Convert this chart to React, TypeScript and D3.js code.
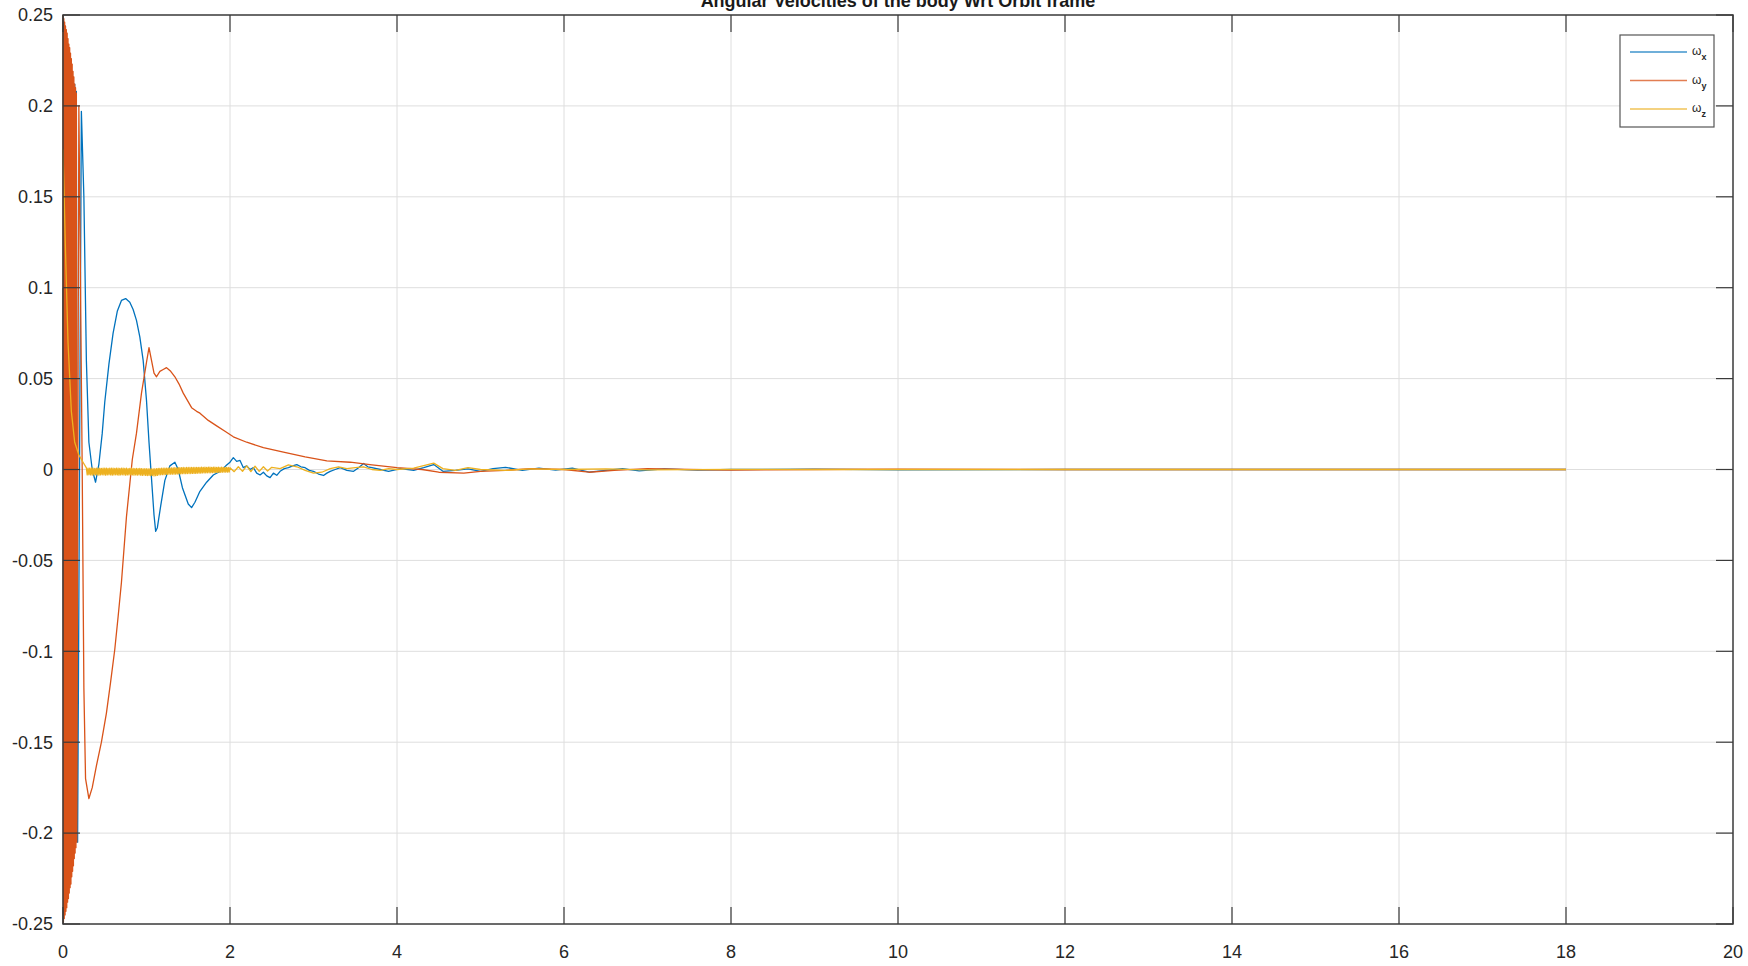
import { useRef, useEffect } from 'react';
import * as d3 from 'd3';

const WIDTH = 1748;
const HEIGHT = 966;
const MARGIN = { top: 15, right: 15, bottom: 42, left: 63 };

const TITLE = 'Angular Velocities of the body Wrt Orbit frame';

const X_TICKS = [0, 2, 4, 6, 8, 10, 12, 14, 16, 18, 20];
const Y_TICKS = [-0.25, -0.2, -0.15, -0.1, -0.05, 0, 0.05, 0.1, 0.15, 0.2, 0.25];
const Y_TICK_LABELS = ['-0.25', '-0.2', '-0.15', '-0.1', '-0.05', '0', '0.05', '0.1', '0.15', '0.2', '0.25'];

const SERIES_NAMES = ['x', 'y', 'z'];
const SERIES_COLORS = ['#0072BD', '#D95319', '#EDB120'];

// omega_x  [t, value]
const omegaX: [number, number][] = [
  [0, 0.1], [0.01, -0.2], [0.02, 0.21], [0.03, -0.21], [0.04, 0.212], [0.05, -0.21], [0.06, 0.211],
  [0.07, -0.209], [0.08, 0.21], [0.09, -0.208], [0.1, 0.209], [0.11, -0.207], [0.12, 0.21],
  [0.13, -0.206], [0.14, 0.212], [0.15, -0.205], [0.16, 0.208], [0.175, -0.205], [0.22, 0.197],
  [0.25, 0.15], [0.28, 0.06], [0.31, 0.015], [0.35, 0.0], [0.39, -0.007], [0.43, 0.003],
  [0.47, 0.02], [0.5, 0.037], [0.55, 0.058], [0.6, 0.075], [0.65, 0.087], [0.7, 0.093],
  [0.75, 0.094], [0.8, 0.092], [0.84, 0.088], [0.88, 0.082], [0.92, 0.073], [0.96, 0.06],
  [1.0, 0.038], [1.03, 0.015], [1.06, -0.005], [1.09, -0.025], [1.11, -0.034], [1.13, -0.032],
  [1.17, -0.02], [1.22, -0.006], [1.28, 0.002], [1.34, 0.004], [1.38, 0.0], [1.43, -0.01],
  [1.5, -0.019], [1.54, -0.021], [1.58, -0.018], [1.64, -0.012], [1.72, -0.007], [1.8, -0.003],
  [1.88, -0.001], [1.95, 0.002], [2.0, 0.004], [2.04, 0.0065], [2.08, 0.0045], [2.12, 0.005],
  [2.16, 0.001], [2.2, 0.002], [2.24, 0.0], [2.28, 0.001], [2.32, -0.002], [2.36, -0.003],
  [2.4, -0.0015], [2.44, -0.0035], [2.48, -0.0045], [2.52, -0.002], [2.56, -0.0032],
  [2.6, -0.001], [2.65, 0.0005], [2.7, 0.001], [2.75, 0.002], [2.8, 0.0027], [2.85, 0.0015],
  [2.9, 0.001], [2.95, -0.0005], [3.0, -0.001], [3.06, -0.0025], [3.12, -0.0033], [3.16, -0.002],
  [3.2, -0.001], [3.26, 0.0], [3.32, 0.001], [3.4, -0.0005], [3.48, -0.001], [3.54, 0.001],
  [3.6, 0.0033], [3.65, 0.0015], [3.7, 0.001], [3.8, 0.0], [3.9, -0.001], [4.04, 0.0005],
  [4.2, -0.0005], [4.32, 0.001], [4.44, 0.0027], [4.55, -0.001], [4.7, -0.0005], [4.85, 0.0003],
  [5.0, -0.001], [5.15, 0.0005], [5.3, 0.0012], [5.5, -0.0005], [5.7, 0.0008], [5.9, -0.0003],
  [6.1, 0.0008], [6.3, -0.0015], [6.5, -0.0005], [6.7, 0.0005], [6.9, -0.0008], [7.2, 0.0003],
  [7.6, -0.0003], [8, 0.0], [9, 0.0002], [10, -0.0002], [12, 0], [18, 0],
];

// omega_y
const omegaY: [number, number][] = [
  [0, 0.25], [0.005, -0.249], [0.01, 0.248], [0.015, -0.247], [0.02, 0.246], [0.025, -0.245],
  [0.03, 0.244], [0.035, -0.243], [0.04, 0.242], [0.045, -0.241], [0.05, 0.24], [0.055, -0.238],
  [0.06, 0.237], [0.065, -0.236], [0.07, 0.234], [0.075, -0.233], [0.08, 0.232], [0.085, -0.23],
  [0.09, 0.229], [0.095, -0.228], [0.1, 0.226], [0.105, -0.224], [0.11, 0.223], [0.115, -0.221],
  [0.12, 0.219], [0.125, -0.218], [0.13, 0.216], [0.135, -0.214], [0.14, 0.212], [0.145, -0.211],
  [0.15, 0.21], [0.155, -0.208], [0.16, 0.207], [0.165, -0.205], [0.19, 0.2], [0.21, 0.1],
  [0.23, 0.0], [0.25, -0.12], [0.27, -0.17], [0.31, -0.181], [0.35, -0.175], [0.4, -0.163],
  [0.46, -0.15], [0.52, -0.134], [0.57, -0.117], [0.62, -0.099], [0.66, -0.081], [0.7, -0.062],
  [0.76, -0.026], [0.8, -0.008], [0.83, 0.0055], [0.88, 0.02], [0.94, 0.042], [1.0, 0.059],
  [1.03, 0.067], [1.06, 0.06], [1.09, 0.053], [1.12, 0.051], [1.16, 0.054], [1.2, 0.055],
  [1.24, 0.056], [1.29, 0.054], [1.34, 0.051], [1.39, 0.047], [1.44, 0.042], [1.49, 0.038],
  [1.54, 0.034], [1.6, 0.032], [1.64, 0.031], [1.74, 0.027], [1.84, 0.024], [1.94, 0.021],
  [2.04, 0.018], [2.2, 0.015], [2.4, 0.012], [2.64, 0.0095], [2.9, 0.007], [3.16, 0.0048],
  [3.44, 0.004], [3.7, 0.0025], [4.0, 0.001], [4.3, 0.0], [4.5, -0.0015], [4.8, -0.002],
  [5.0, -0.001], [5.3, -0.0005], [5.6, 0.0005], [6.0, 0.0], [6.3, -0.0015], [6.6, -0.0005],
  [7.0, 0.0005], [7.5, 0.0], [8, -0.0003], [9, 0.0], [10, 0.0002], [12, 0], [18, 0],
];

// omega_z
const omegaZ: [number, number][] = [
  [0, 0.176], [0.03, 0.12], [0.06, 0.07], [0.1, 0.032], [0.14, 0.015], [0.19, 0.008], [0.24, 0.004],
  [0.28, 0.0009], [0.29, -0.003], [0.3, 0.0008], [0.31, -0.0029], [0.32, 0.0007], [0.33, -0.003],
  [0.34, 0.0009], [0.35, -0.0031], [0.36, 0.0008], [0.37, -0.003], [0.38, 0.0006], [0.39, -0.0029],
  [0.4, 0.0008], [0.41, -0.003], [0.42, 0.0007], [0.43, -0.0031], [0.44, 0.0008], [0.45, -0.003],
  [0.46, 0.0006], [0.47, -0.0029], [0.48, 0.0008], [0.49, -0.003],
  [0.5, 0.0007], [0.51, -0.0031], [0.52, 0.0008], [0.53, -0.003], [0.54, 0.0006], [0.55, -0.0029],
  [0.56, 0.0007], [0.57, -0.003], [0.58, 0.0008], [0.59, -0.0031],
  [0.6, 0.0007], [0.61, -0.003], [0.62, 0.0006], [0.63, -0.0029], [0.64, 0.0008], [0.65, -0.003],
  [0.66, 0.0007], [0.67, -0.0031], [0.68, 0.0006], [0.69, -0.003],
  [0.7, 0.0007], [0.71, -0.0029], [0.72, 0.0008], [0.73, -0.003], [0.74, 0.0006], [0.75, -0.0031],
  [0.76, 0.0007], [0.77, -0.003], [0.78, 0.0005], [0.79, -0.003],
  [0.8, 0.0006], [0.81, -0.0029], [0.82, 0.0007], [0.83, -0.003], [0.84, 0.0006], [0.85, -0.0031],
  [0.86, 0.0005], [0.87, -0.003], [0.88, 0.0006], [0.89, -0.0031],
  [0.9, 0.0005], [0.91, -0.003], [0.92, 0.0006], [0.93, -0.0031], [0.94, 0.0005], [0.95, -0.0032],
  [0.96, 0.0004], [0.97, -0.0031], [0.98, 0.0005], [0.99, -0.0032],
  [1.0, 0.0004], [1.01, -0.0033], [1.02, 0.0004], [1.03, -0.0032], [1.04, 0.0003], [1.05, -0.0034],
  [1.06, 0.0004], [1.07, -0.0033], [1.08, 0.0003], [1.09, -0.0035],
  [1.1, 0.0004], [1.11, -0.0034], [1.12, 0.0005], [1.13, -0.0032], [1.14, 0.0006], [1.15, -0.003],
  [1.16, 0.0006], [1.17, -0.0029], [1.18, 0.0007], [1.19, -0.0028],
  [1.2, 0.0007], [1.21, -0.0028], [1.22, 0.0008], [1.23, -0.0027], [1.24, 0.0008], [1.25, -0.0027],
  [1.26, 0.0008], [1.27, -0.0026], [1.28, 0.0009], [1.29, -0.0026],
  [1.3, 0.0009], [1.31, -0.0025], [1.32, 0.0009], [1.33, -0.0025], [1.34, 0.001], [1.35, -0.0025],
  [1.36, 0.0009], [1.37, -0.0024], [1.38, 0.001], [1.39, -0.0024],
  [1.4, 0.001], [1.41, -0.0024], [1.42, 0.001], [1.43, -0.0023], [1.44, 0.0011], [1.45, -0.0023],
  [1.46, 0.001], [1.47, -0.0023], [1.48, 0.0011], [1.49, -0.0022],
  [1.5, 0.0011], [1.51, -0.0022], [1.52, 0.0011], [1.53, -0.0022], [1.54, 0.0012], [1.55, -0.0021],
  [1.56, 0.0011], [1.57, -0.0021], [1.58, 0.0012], [1.59, -0.0021],
  [1.6, 0.0012], [1.61, -0.002], [1.62, 0.0012], [1.63, -0.002], [1.64, 0.0012], [1.65, -0.002],
  [1.66, 0.0013], [1.67, -0.0019], [1.68, 0.0012], [1.69, -0.0019],
  [1.7, 0.0013], [1.71, -0.0019], [1.72, 0.0012], [1.73, -0.0018], [1.74, 0.0013], [1.75, -0.0018],
  [1.76, 0.0013], [1.77, -0.0018], [1.78, 0.0012], [1.79, -0.0017],
  [1.8, 0.0013], [1.81, -0.0017], [1.82, 0.0013], [1.83, -0.0017], [1.84, 0.0012], [1.85, -0.0016],
  [1.86, 0.0013], [1.87, -0.0016], [1.88, 0.0012], [1.89, -0.0016],
  [1.9, 0.0013], [1.91, -0.0015], [1.92, 0.0012], [1.93, -0.0015], [1.94, 0.0012], [1.95, -0.0015],
  [1.96, 0.0012], [1.97, -0.0014], [1.98, 0.0011], [1.99, -0.0014], [2.0, 0.001],
  [2.05, -0.0012], [2.1, 0.0015], [2.15, -0.001], [2.2, 0.002], [2.25, -0.0012], [2.3, 0.0018],
  [2.35, -0.001], [2.4, 0.0015], [2.45, -0.0008], [2.5, 0.0012], [2.6, 0.0005], [2.7, 0.0025],
  [2.8, 0.0015], [2.9, -0.0005], [3.0, -0.002], [3.1, -0.0015], [3.2, 0.0005], [3.3, 0.0015],
  [3.4, 0.0005], [3.5, 0.001], [3.6, 0.0015], [3.7, 0.0], [3.8, -0.0005], [3.9, 0.0005], [4.0, 0.0],
  [4.2, 0.0008], [4.44, 0.0035], [4.55, 0.0005], [4.7, -0.0005], [4.85, 0.001], [5.0, 0.0],
  [5.3, -0.0005], [5.6, 0.0003], [6.0, 0.0], [6.5, 0.0003], [7, -0.0002], [8, 0.0001], [9, 0],
  [12, 0], [18, 0],
];

const SERIES = [omegaX, omegaY, omegaZ];

export default function App() {
  const svgRef = useRef<SVGSVGElement | null>(null);

  useEffect(() => {
    const svg = d3.select(svgRef.current);
    svg.selectAll('*').remove();

    const innerW = WIDTH - MARGIN.left - MARGIN.right;
    const innerH = HEIGHT - MARGIN.top - MARGIN.bottom;

    const xScale = d3.scaleLinear().domain([0, 20]).range([0, innerW]);
    const yScale = d3.scaleLinear().domain([-0.25, 0.25]).range([innerH, 0]);

    svg.append('rect').attr('width', WIDTH).attr('height', HEIGHT).attr('fill', '#fff');

    const font = "'Liberation Sans', Arial, Helvetica, sans-serif";

    // title sits partly above the visible area, like in the screenshot
    svg.append('text')
      .attr('x', MARGIN.left + innerW / 2)
      .attr('y', 7)
      .attr('text-anchor', 'middle')
      .attr('font-family', font)
      .attr('font-weight', 'bold')
      .attr('font-size', 18)
      .attr('fill', '#1a1a1a')
      .text(TITLE);

    const g = svg.append('g').attr('transform', `translate(${MARGIN.left},${MARGIN.top})`);

    // grid
    g.append('g')
      .selectAll('line')
      .data(X_TICKS.slice(1, -1))
      .join('line')
      .attr('x1', d => xScale(d)).attr('x2', d => xScale(d))
      .attr('y1', 0).attr('y2', innerH)
      .attr('stroke', '#dedede').attr('stroke-width', 1);
    g.append('g')
      .selectAll('line')
      .data(Y_TICKS.slice(1, -1))
      .join('line')
      .attr('x1', 0).attr('x2', innerW)
      .attr('y1', d => yScale(d)).attr('y2', d => yScale(d))
      .attr('stroke', '#dedede').attr('stroke-width', 1);

    // series
    const line = d3.line<[number, number]>()
      .x(d => xScale(d[0]))
      .y(d => yScale(d[1]));

    SERIES.forEach((data, i) => {
      g.append('path')
        .datum(data)
        .attr('d', line)
        .attr('fill', 'none')
        .attr('stroke', SERIES_COLORS[i])
        .attr('stroke-width', 1.3)
        .attr('stroke-linejoin', 'round');
    });

    // box + inward ticks on all sides
    const axisColor = '#3a3a3a';
    const TICK = 17;
    g.append('rect')
      .attr('width', innerW).attr('height', innerH)
      .attr('fill', 'none').attr('stroke', axisColor).attr('stroke-width', 1.5);

    const ticks = g.append('g').attr('stroke', axisColor).attr('stroke-width', 1.2);
    X_TICKS.forEach(t => {
      const x = xScale(t);
      ticks.append('line').attr('x1', x).attr('x2', x).attr('y1', innerH).attr('y2', innerH - TICK);
      ticks.append('line').attr('x1', x).attr('x2', x).attr('y1', 0).attr('y2', TICK);
    });
    Y_TICKS.forEach(t => {
      const y = yScale(t);
      ticks.append('line').attr('x1', 0).attr('x2', TICK).attr('y1', y).attr('y2', y);
      ticks.append('line').attr('x1', innerW).attr('x2', innerW - TICK).attr('y1', y).attr('y2', y);
    });

    // tick labels
    g.append('g')
      .selectAll('text')
      .data(X_TICKS)
      .join('text')
      .attr('x', d => xScale(d))
      .attr('y', innerH + 34)
      .attr('text-anchor', 'middle')
      .attr('font-family', font)
      .attr('font-size', 18)
      .attr('fill', '#262626')
      .text(d => String(d));

    g.append('g')
      .selectAll('text')
      .data(Y_TICKS)
      .join('text')
      .attr('x', -10)
      .attr('y', d => yScale(d))
      .attr('dy', '0.35em')
      .attr('text-anchor', 'end')
      .attr('font-family', font)
      .attr('font-size', 18)
      .attr('fill', '#262626')
      .text((d, i) => Y_TICK_LABELS[i]);

    // legend
    const lg = svg.append('g').attr('transform', 'translate(1620,35)');
    lg.append('rect')
      .attr('width', 94).attr('height', 92)
      .attr('fill', '#fff').attr('stroke', '#555').attr('stroke-width', 1.2);
    SERIES_NAMES.forEach((name, i) => {
      const y = 17 + i * 28.5;
      lg.append('line')
        .attr('x1', 10).attr('x2', 67).attr('y1', y).attr('y2', y)
        .attr('stroke', SERIES_COLORS[i]).attr('stroke-width', 1.3).attr('opacity', 0.75);
      const t = lg.append('text')
        .attr('x', 72).attr('y', y + 3)
        .attr('font-family', font)
        .attr('font-size', 12)
        .attr('fill', '#262626');
      t.append('tspan').text('ω');
      t.append('tspan').attr('dy', 5).attr('font-size', 9).attr('font-weight', 'bold').text(name);
    });
  }, []);

  return (
    <div style={{ position: 'absolute', left: 0, top: 0 }}>
      <svg ref={svgRef} width={WIDTH} height={HEIGHT} style={{ display: 'block' }} />
    </div>
  );
}
